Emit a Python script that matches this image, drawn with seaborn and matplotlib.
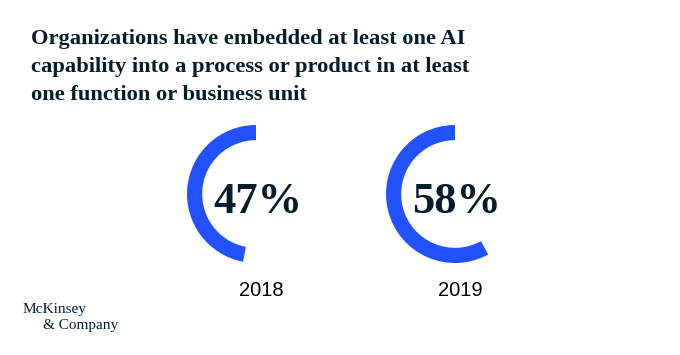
import matplotlib
matplotlib.use("Agg")
import matplotlib.pyplot as plt
import seaborn as sns

# data
years = ["2018", "2019"]
shares = [47, 58]
title_lines = ["Organizations have embedded at least one AI",
               "capability into a process or product in at least",
               "one function or business unit"]

blue = "#2251FF"
navy = "#051C2C"

sns.set_theme(style="white")
plt.rcParams['font.family'] = ['Liberation Serif', 'DejaVu Serif']

fig = plt.figure(figsize=(6.8, 3.55), dpi=100)
W, H = 680, 355

# title, one line per text so the baselines sit where the reference has them
for line, base in zip(title_lines, [44, 72, 100]):
    fig.text(31 / W, 1 - base / H, line, ha="left", va="baseline", fontsize=16.2,
             fontweight="bold", color=navy)

# donut arcs, centres in pixels
centres = [(256, 194), (455, 194)]
r = 69
for (cx, cy), yr, val in zip(centres, years, shares):
    ax = fig.add_axes([(cx - r) / W, (H - cy - r) / H, 2 * r / W, 2 * r / H])
    ax.pie([val, 100 - val], colors=[blue, "none"], startangle=90,
           counterclock=True, wedgeprops=dict(width=0.22, linewidth=0))
    ax.set_xlim(-1, 1)
    ax.set_ylim(-1, 1)
    ax.set_aspect("equal")
    ax.axis("off")
    ax.text(0.02, -0.11, f"{val}%", ha="center", va="center", fontsize=32,
            fontweight="bold", color=navy)
    fig.text((cx + 5) / W, 1 - 291 / H, yr, ha="center", va="center",
             fontsize=14.5, color="black", family=["Liberation Sans", "DejaVu Sans"])

fig.text(23 / W, 1 - 310 / H, "McKinsey", ha="left", va="center", fontsize=11,
         color=navy)
fig.text(43 / W, 1 - 325 / H, "& Company", ha="left", va="center", fontsize=11,
         color=navy)

fig.savefig("out.png", dpi=100, facecolor="white")
